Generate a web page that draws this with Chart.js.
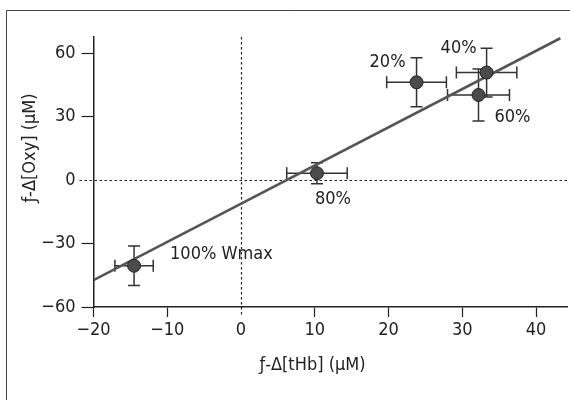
<!DOCTYPE html>
<html><head><meta charset="utf-8">
<script src="https://cdn.jsdelivr.net/npm/chart.js@4"></script>
<style>html,body{margin:0;padding:0;background:#fff;overflow:hidden}#wrap{width:570px;height:400px;position:relative;overflow:hidden}canvas{display:block}</style>
</head><body><div id="wrap"><canvas id="c" width="570" height="400"></canvas></div>
<script>
const pointLabels = ['100% Wmax', '80%', '60%', '40%', '20%'];
const xValues = [-14.5, 10.3, 32.2, 33.3, 23.8];
const yValues = [-40.5, 3.2, 40.2, 50.8, 46.2];
const xErrors = [2.6, 4.1, 4.2, 4.1, 4.05];
const yErrors = [9.3, 5.0, 12.3, 11.5, 11.6];
const fitX = [-20, 43.3];
const fitY = [-47.3, 67.0];
const xTicks = [-20, -10, 0, 10, 20, 30, 40];
const yTicks = [-60, -30, 0, 30, 60];
const xTitle = 'ƒ-Δ[tHb] (μM)';
const yTitle = 'ƒ-Δ[Oxy] (μM)';

const FAMILY = "'DejaVu Sans Condensed', 'Liberation Sans Narrow', sans-serif";
const FSIZE = 18;
const INK = '#222';
// label placement (pixel offsets from point centre, alignment)
const labelStyle = [
  {dx: 36, dy: -11, align: 'left'},
  {dx: -2, dy: 26, align: 'left'},
  {dx: 16, dy: 22, align: 'left'},
  {dx: -10, dy: -24, align: 'right'},
  {dx: -11, dy: -20, align: 'right'}
];

const fmt = v => (v < 0 ? '\u2212' + Math.abs(v) : String(v));

const overlay = {
  id: 'overlay',
  beforeDraw(chart) {
    const c = chart.ctx;
    c.save();
    c.strokeStyle = '#444';
    c.lineWidth = 1;
    c.beginPath();
    c.moveTo(6.5, 400); c.lineTo(6.5, 10.5); c.lineTo(570, 10.5);
    c.stroke();
    c.restore();
  },
  beforeDatasetsDraw(chart) {
    const c = chart.ctx, xs = chart.scales.x, ys = chart.scales.y, a = chart.chartArea;
    c.save();
    c.strokeStyle = INK;
    c.lineWidth = 1.2;
    c.setLineDash([2.5, 2.5]);
    const x0 = Math.round(xs.getPixelForValue(0)) + 0.5;
    const y0 = Math.round(ys.getPixelForValue(0)) + 0.5;
    c.beginPath();
    c.moveTo(x0, a.top); c.lineTo(x0, a.bottom + 10);
    c.moveTo(a.left - 14, y0); c.lineTo(a.right, y0);
    c.stroke();
    c.setLineDash([]);
    // error bars
    c.strokeStyle = '#333';
    c.lineWidth = 1.5;
    const cap = 6;
    for (let i = 0; i < xValues.length; i++) {
      const px = xs.getPixelForValue(xValues[i]);
      const py = ys.getPixelForValue(yValues[i]);
      const xl = xs.getPixelForValue(xValues[i] - xErrors[i]);
      const xr = xs.getPixelForValue(xValues[i] + xErrors[i]);
      const yt = ys.getPixelForValue(yValues[i] + yErrors[i]);
      const yb = ys.getPixelForValue(yValues[i] - yErrors[i]);
      c.beginPath();
      c.moveTo(xl, py); c.lineTo(xr, py);
      c.moveTo(xl, py - cap); c.lineTo(xl, py + cap);
      c.moveTo(xr, py - cap); c.lineTo(xr, py + cap);
      c.moveTo(px, yt); c.lineTo(px, yb);
      c.moveTo(px - cap, yt); c.lineTo(px + cap, yt);
      c.moveTo(px - cap, yb); c.lineTo(px + cap, yb);
      c.stroke();
    }
    c.restore();
  },
  afterDraw(chart) {
    const c = chart.ctx, xs = chart.scales.x, ys = chart.scales.y, a = chart.chartArea;
    c.save();
    c.fillStyle = INK;
    c.font = FSIZE + 'px ' + FAMILY;
    c.textBaseline = 'middle';
    for (let i = 0; i < pointLabels.length; i++) {
      const px = xs.getPixelForValue(xValues[i]);
      const py = ys.getPixelForValue(yValues[i]);
      const s = labelStyle[i];
      c.textAlign = s.align;
      c.fillText(pointLabels[i], px + s.dx, py + s.dy);
    }
    // axis titles
    c.textAlign = 'center';
    c.fillText(xTitle, a.left + 219, a.bottom + 58);
    c.translate(30, a.top + 111);
    c.rotate(-Math.PI / 2);
    c.fillText(yTitle, 0, 0);
    c.restore();
  }
};

new Chart(document.getElementById('c'), {
  type: 'scatter',
  data: {
    datasets: [
      {
        type: 'line',
        data: fitX.map((x, i) => ({x: x, y: fitY[i]})),
        borderColor: '#555',
        borderWidth: 2.6,
        pointRadius: 0,
        fill: false,
        order: 2
      },
      {
        data: xValues.map((x, i) => ({x: x, y: yValues[i]})),
        backgroundColor: '#4b4b4b',
        borderColor: '#222',
        borderWidth: 1,
        pointRadius: 6.5,
        order: 1
      }
    ]
  },
  options: {
    responsive: false,
    animation: false,
    layout: {autoPadding: false, padding: {top: 37, right: 3, left: 0, bottom: 0}},
    plugins: {legend: {display: false}, tooltip: {enabled: false}},
    scales: {
      x: {
        type: 'linear', min: -20, max: 44.2,
        afterBuildTicks: s => { s.ticks = xTicks.map(v => ({value: v})); },
        afterFit: s => { s.height = 93; s.paddingRight = 0; s.paddingLeft = 0; },
        grid: {drawOnChartArea: false, drawTicks: true, tickLength: 10,
               tickColor: ctx => (ctx.tick && ctx.tick.value === 0 ? 'rgba(0,0,0,0)' : INK), tickWidth: 1.2},
        border: {color: INK, width: 1.5},
        ticks: {padding: 3, color: INK, font: {family: FAMILY, size: FSIZE}, callback: v => fmt(v), maxRotation: 0}
      },
      y: {
        type: 'linear', min: -60, max: 67.6,
        afterBuildTicks: s => { s.ticks = yTicks.map(v => ({value: v})); },
        afterFit: s => { s.width = 93.5; s.paddingTop = 0; s.paddingBottom = 0; },
        grid: {drawOnChartArea: false, drawTicks: true, tickLength: 12,
               tickColor: ctx => (ctx.tick && ctx.tick.value === 0 ? 'rgba(0,0,0,0)' : INK), tickWidth: 1.2},
        border: {color: INK, width: 1.5},
        ticks: {padding: 6, color: INK, font: {family: FAMILY, size: FSIZE}, callback: v => fmt(v)}
      }
    }
  },
  plugins: [overlay]
});
</script>
</body></html>
